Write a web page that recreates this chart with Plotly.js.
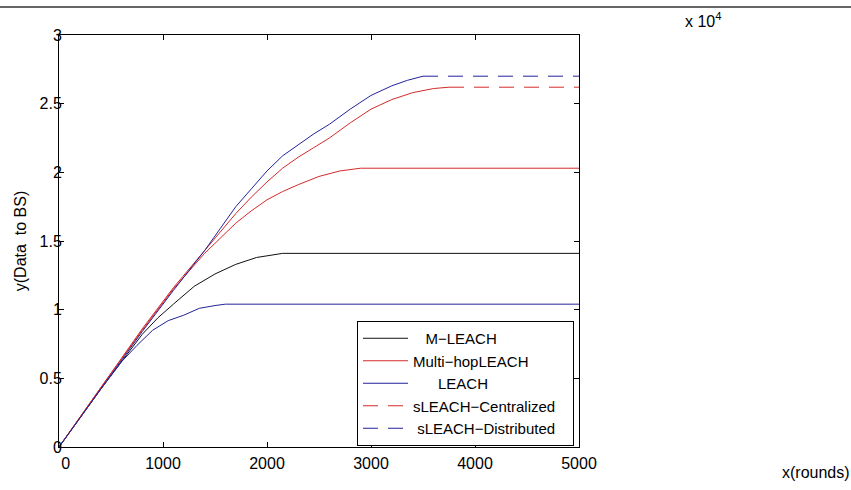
<!DOCTYPE html>
<html>
<head>
<meta charset="utf-8">
<script src="https://cdn.plot.ly/plotly-3.0.1.min.js"></script>
<style>html,body{margin:0;padding:0;background:#fff;}#chart{width:851px;height:490px;}</style>
</head>
<body>
<div id="chart"></div>
<script>
// Values in units of 10^4 (data to BS) versus rounds
const mleachX = [0, 400, 800, 950, 1100, 1300, 1500, 1700, 1900, 2050, 2150, 5000];
const mleachY = [0, 0.42, 0.82, 0.94, 1.04, 1.17, 1.26, 1.33, 1.38, 1.40, 1.41, 1.41];

const multihopX = [0, 400, 800, 1100, 1400, 1550, 1700, 1850, 2000, 2150, 2300, 2500, 2700, 2900, 5000];
const multihopY = [0, 0.43, 0.85, 1.15, 1.41, 1.52, 1.63, 1.72, 1.80, 1.86, 1.91, 1.97, 2.01, 2.03, 2.03];

const leachX = [0, 200, 400, 600, 750, 900, 1050, 1200, 1350, 1500, 1600, 5000];
const leachY = [0, 0.21, 0.42, 0.62, 0.74, 0.85, 0.92, 0.96, 1.01, 1.03, 1.04, 1.04];

const centralX = [0, 400, 800, 1100, 1400, 1550, 1700, 1850, 2000, 2150, 2300, 2450, 2600, 2800, 3000, 3200, 3400, 3600, 3750, 5000];
const centralY = [0, 0.43, 0.86, 1.16, 1.43, 1.56, 1.70, 1.82, 1.93, 2.03, 2.11, 2.18, 2.25, 2.36, 2.46, 2.53, 2.58, 2.61, 2.62, 2.62];

const distribX = [0, 400, 800, 1100, 1400, 1550, 1700, 1850, 2000, 2150, 2300, 2450, 2600, 2800, 3000, 3200, 3350, 3500, 5000];
const distribY = [0, 0.42, 0.84, 1.14, 1.43, 1.59, 1.75, 1.88, 2.01, 2.12, 2.20, 2.28, 2.35, 2.46, 2.56, 2.63, 2.67, 2.70, 2.70];

// legend labels (padding spaces approximate the centred text of the original legend)
const legendNames = [
  '\u00a0\u00a0\u00a0M\u2212LEACH',
  'Multi\u2212hopLEACH',
  '\u00a0\u00a0\u00a0\u00a0\u00a0\u00a0LEACH',
  'sLEACH\u2212Centralized\u00a0\u00a0\u00a0',
  '\u00a0sLEACH\u2212Distributed'
];
const xTickVals = [0, 1000, 2000, 3000, 4000, 5000];
const xTickText = ['\u00a0\u00a0\u00a00', '1000', '2000', '3000', '4000', '5000'];
const yTickVals = [0, 0.5, 1, 1.5, 2, 2.5, 3];

const BLACK = '#111111', RED = '#d42a2a', BLUE = '#23239a';
const FONT = 'Liberation Sans, Arial, sans-serif';

function plateauStart(ys) {
  const m = Math.max(...ys);
  return ys.indexOf(m);
}

const cIdx = plateauStart(centralY);
const dIdx = plateauStart(distribY);

const traces = [
  {x: mleachX, y: mleachY, name: legendNames[0], mode: 'lines', line: {color: BLACK, width: 1}},
  {x: multihopX, y: multihopY, name: legendNames[1], mode: 'lines', line: {color: RED, width: 1}},
  {x: leachX, y: leachY, name: legendNames[2], mode: 'lines', line: {color: BLUE, width: 1}},
  {x: centralX.slice(cIdx), y: centralY.slice(cIdx), name: legendNames[3], mode: 'lines', line: {color: RED, width: 1, dash: '15px,10px'}},
  {x: distribX.slice(dIdx), y: distribY.slice(dIdx), name: legendNames[4], mode: 'lines', line: {color: BLUE, width: 1, dash: '15px,10px'}},
  {x: centralX.slice(0, cIdx + 1), y: centralY.slice(0, cIdx + 1), mode: 'lines', showlegend: false, hoverinfo: 'skip', line: {color: RED, width: 1}},
  {x: distribX.slice(0, dIdx + 1), y: distribY.slice(0, dIdx + 1), mode: 'lines', showlegend: false, hoverinfo: 'skip', line: {color: BLUE, width: 1}}
];

const axisCommon = {
  showline: true, linecolor: '#000', linewidth: 1, mirror: 'ticks',
  ticks: 'inside', ticklen: 5, tickcolor: '#000', tickwidth: 1,
  showgrid: false, zeroline: false,
  tickfont: {family: FONT, size: 16, color: '#000'}
};

const layout = {
  width: 851, height: 490,
  margin: {l: 59, r: 272, t: 35, b: 43, pad: 0},
  paper_bgcolor: '#fff', plot_bgcolor: '#fff',
  font: {family: FONT, size: 16, color: '#000'},
  xaxis: Object.assign({}, axisCommon, {range: [0, 5000], tickvals: xTickVals, ticktext: xTickText, ticklabelstandoff: 2}),
  yaxis: Object.assign({}, axisCommon, {
    range: [0, 3], tickvals: yTickVals, ticklabelstandoff: -7,
    title: {text: 'y(Data\u00a0 to BS)', standoff: 8, font: {family: FONT, size: 16, color: '#000'}}
  }),
  showlegend: true,
  legend: {
    x: (357 - 59) / 520, y: (447 - 321) / 412, xanchor: 'left', yanchor: 'top',
    bgcolor: '#fff', bordercolor: '#000', borderwidth: 1, itemwidth: 45,
    font: {family: FONT, size: 15, color: '#000'}, traceorder: 'normal'
  },
  annotations: [
    {text: 'x 10<sup>4</sup>', xref: 'paper', yref: 'paper', x: (703 - 59) / 520, y: (447 - 20) / 412,
     xanchor: 'center', yanchor: 'middle', showarrow: false, font: {family: FONT, size: 16, color: '#000'}},
    {text: 'x(rounds)', xref: 'paper', yref: 'paper', x: (816 - 59) / 520, y: (447 - 472) / 412,
     xanchor: 'center', yanchor: 'middle', showarrow: false, font: {family: FONT, size: 16, color: '#000'}}
  ],
  shapes: [
    {type: 'line', xref: 'paper', yref: 'paper', x0: -59 / 520, x1: (851 - 59) / 520,
     y0: (447 - 7) / 412, y1: (447 - 7) / 412, line: {color: '#333', width: 1.5}}
  ]
};

Plotly.newPlot('chart', traces, layout, {displayModeBar: false, staticPlot: true});
</script>
</body>
</html>
